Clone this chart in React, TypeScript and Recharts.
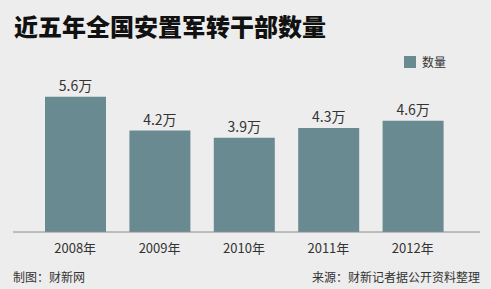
import React from "react";
import { BarChart, Bar, XAxis, YAxis, LabelList } from "recharts";

const years = ["2008年", "2009年", "2010年", "2011年", "2012年"];
const counts = [5.6, 4.2, 3.9, 4.3, 4.6];

const data = years.map((year, i) => ({ year, count: counts[i] }));

const BAR = "#6a8a91";
const FONT = '"Noto Sans CJK SC", "Noto Sans", sans-serif';

export default function App() {
  return (
    <div style={{ position: "absolute", left: 0, top: 0, width: 491, height: 289, background: "#ededed", fontFamily: FONT }}>
      <div style={{ position: "absolute", left: 14, top: 10, fontSize: 24, fontWeight: 900, color: "#111", letterSpacing: 0, lineHeight: "32px" }}>
        近五年全国安置军转干部数量
      </div>
      {/* legend */}
      <div style={{ position: "absolute", left: 404, top: 53, display: "flex", alignItems: "center", fontSize: 12, color: "#333", lineHeight: "18px" }}>
        <span style={{ width: 12, height: 12, background: BAR, display: "inline-block", marginRight: 6 }} />
        数量
      </div>
      <BarChart width={491} height={289} data={data} margin={{ top: 87, right: 11, left: 13, bottom: 27 }}>
        <XAxis
          dataKey="year"
          height={30}
          padding={{ left: 20, right: 25 }}
          axisLine={{ stroke: "#8c8c8c" }}
          tickLine={false}
          tick={{ fontSize: 13, fill: "#333", fontFamily: FONT }}
          tickMargin={6}
        />
        <YAxis hide domain={[0, 6]} />
        <Bar dataKey="count" name="数量" fill={BAR} barSize={61} isAnimationActive={false}>
          <LabelList
            dataKey="count"
            position="top"
            offset={6}
            formatter={(v: number) => `${v}万`}
            style={{ fontSize: 14, fill: "#333", fontFamily: FONT }}
          />
        </Bar>
      </BarChart>
      <div style={{ position: "absolute", left: 13, top: 268, fontSize: 12, color: "#333" }}>制图：财新网</div>
      <div style={{ position: "absolute", right: 11, top: 268, fontSize: 12, color: "#333" }}>来源：财新记者据公开资料整理</div>
    </div>
  );
}
